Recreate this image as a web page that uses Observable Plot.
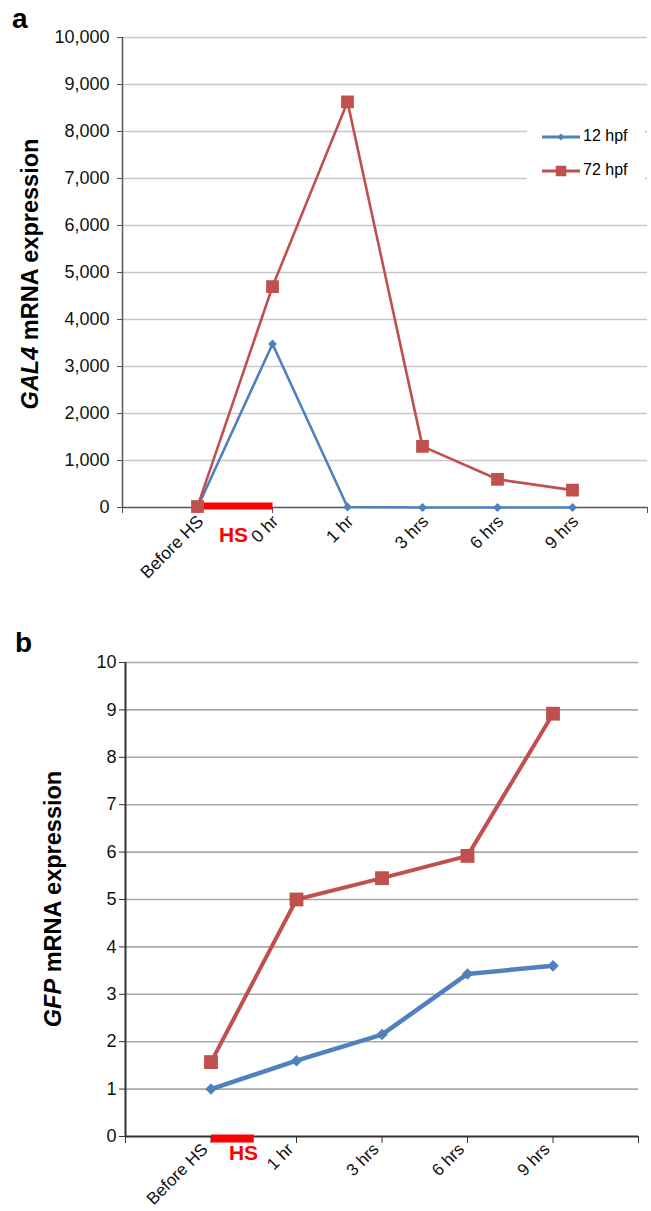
<!DOCTYPE html>
<html><head><meta charset="utf-8">
<script src="https://cdn.jsdelivr.net/npm/d3@7"></script>
<script src="https://cdn.jsdelivr.net/npm/@observablehq/plot@0.6"></script>
<style>
body{margin:0;background:#fff;}
#wrap{position:relative;width:651px;height:1211px;font-family:"Liberation Sans",Arial,sans-serif;overflow:hidden;}
#wrap svg{display:block;overflow:visible;}
</style></head><body><div id="wrap"></div>
<script>
// ---- data ----
const seriesNames = ["12 hpf", "72 hpf"];
const seriesColors = ["#4f81bd", "#c0504d"];

const catsA = ["Before HS", "0 hr", "1 hr", "3 hrs", "6 hrs", "9 hrs"];
const gal4_12hpf = [0, 3480, 10, 0, 0, 0];
const gal4_72hpf = [20, 4700, 8630, 1300, 600, 370];
const yTicksA = [0, 1000, 2000, 3000, 4000, 5000, 6000, 7000, 8000, 9000, 10000];
const hsSpanA = [1, 2];      // heat shock bar, in category positions
const hsLabelA = [1.48];

const catsB = ["Before HS", "1 hr", "3 hrs", "6 hrs", "9 hrs"];
const gfp_12hpf = [1.0, 1.6, 2.15, 3.43, 3.6];
const gfp_72hpf = [1.57, 5.0, 5.45, 5.92, 8.92];
const yTicksB = [0, 1, 2, 3, 4, 5, 6, 7, 8, 9, 10];
const hsSpanB = [1, 1.5];
const hsLabelB = [1.38];

function rows(cats, vals, name) {
  return cats.map((c, i) => ({pos: i + 1, cat: c, value: vals[i], series: name}));
}

const FONT = "Liberation Sans, Arial, sans-serif";
const wrap = document.getElementById("wrap");

// ---- chart a ----
const a12 = rows(catsA, gal4_12hpf, seriesNames[0]);
const a72 = rows(catsA, gal4_72hpf, seriesNames[1]);
const plotA = Plot.plot({
  width: 651, height: 600,
  marginLeft: 122, marginRight: 4, marginTop: 37, marginBottom: 93,
  x: {type: "linear", domain: [0, catsA.length + 1]},
  y: {domain: [0, 10000]},
  style: {fontFamily: FONT, fontSize: "16px", color: "#111", background: "transparent"},
  marks: [
    Plot.gridY(yTicksA.slice(1), {stroke: "#c8c8c8", strokeOpacity: 1, strokeWidth: 1.3}),
    Plot.axisY({ticks: yTicksA, tickFormat: d3.format(","), tickSize: 5, tickPadding: 8, label: null, stroke: "#555"}),
    Plot.axisX({ticks: [0, 2, catsA.length + 1], tickSize: 6, tickFormat: () => "", label: null, stroke: "#555"}),
    Plot.axisX({ticks: d3.range(1, catsA.length + 1), tickSize: 0, tickPadding: 11, tickRotate: -45,
      tickFormat: i => catsA[i - 1], label: null, dx: 3}),
    Plot.ruleY([0], {stroke: "#555", strokeWidth: 1.5}),
    Plot.ruleX([0], {stroke: "#555", strokeWidth: 1.5}),
    Plot.line(a12, {x: "pos", y: "value", stroke: seriesColors[0], strokeWidth: 2.6}),
    Plot.line(a72, {x: "pos", y: "value", stroke: seriesColors[1], strokeWidth: 2.6}),
    Plot.link([hsSpanA], {x1: d => d[0], x2: d => d[1], y1: () => 0, y2: () => 0, stroke: "#ff0000", strokeWidth: 7, dy: -1.5}),
    Plot.dot(a12, {x: "pos", y: "value", symbol: "diamond2", r: 4, fill: seriesColors[0]}),
    Plot.dot(a72, {x: "pos", y: "value", symbol: "square", r: 7.2, fill: seriesColors[1]}),
    Plot.text(hsLabelA, {x: d => d, y: () => 0, text: () => "HS", fill: "#ff0000", fontWeight: "bold", fontSize: 21, dy: 28, textAnchor: "middle"})
  ]
});
wrap.appendChild(plotA);

// ---- chart b ----
const b12 = rows(catsB, gfp_12hpf, seriesNames[0]);
const b72 = rows(catsB, gfp_72hpf, seriesNames[1]);
const plotB = Plot.plot({
  width: 651, height: 611,
  marginLeft: 125, marginRight: 13, marginTop: 62, marginBottom: 75,
  x: {type: "linear", domain: [0, catsB.length + 1]},
  y: {domain: [0, 10]},
  style: {fontFamily: FONT, fontSize: "16px", color: "#111", background: "transparent"},
  marks: [
    Plot.gridY(yTicksB.slice(1), {stroke: "#a8a8a8", strokeOpacity: 1, strokeWidth: 1.6}),
    Plot.axisY({ticks: yTicksB, tickSize: 6, tickPadding: 3, label: null, stroke: "#333"}),
    Plot.axisX({ticks: d3.range(0, catsB.length + 2), tickSize: 7, tickFormat: () => "", label: null, stroke: "#333"}),
    Plot.axisX({ticks: d3.range(1, catsB.length + 1), tickSize: 0, tickPadding: 10, tickRotate: -45,
      tickFormat: i => catsB[i - 1], label: null, dx: -6}),
    Plot.ruleY([0], {stroke: "#333", strokeWidth: 2}),
    Plot.ruleX([0], {stroke: "#333", strokeWidth: 2}),
    Plot.link([hsSpanB], {x1: d => d[0], x2: d => d[1], y1: () => 0, y2: () => 0, stroke: "#ff0000", strokeWidth: 8, dy: 2}),
    Plot.line(b12, {x: "pos", y: "value", stroke: seriesColors[0], strokeWidth: 4.5}),
    Plot.line(b72, {x: "pos", y: "value", stroke: seriesColors[1], strokeWidth: 4}),
    Plot.dot(b12, {x: "pos", y: "value", symbol: "diamond2", r: 5.2, fill: seriesColors[0]}),
    Plot.dot(b72, {x: "pos", y: "value", symbol: "square", r: 7.8, fill: seriesColors[1]}),
    Plot.text(hsLabelB, {x: d => d, y: () => 0, text: () => "HS", fill: "#ff0000", fontWeight: "bold", fontSize: 21, dy: 17, textAnchor: "middle"})
  ]
});
wrap.appendChild(plotB);

// tick label sizes
d3.select(plotA).selectAll('g[aria-label="y-axis tick label"] text').style("font-size", "18px");
d3.select(plotA).selectAll('g[aria-label="x-axis tick label"] text').style("font-size", "17.5px");
d3.select(plotB).selectAll('g[aria-label="y-axis tick label"] text').style("font-size", "18px");
d3.select(plotB).selectAll('g[aria-label="x-axis tick label"] text').style("font-size", "17px");

// ---- annotations: panel letters, axis titles, legend ----
function addTitle(svg, cx, cy, italicPart, rest) {
  const t = d3.select(svg).append("text")
    .attr("transform", `translate(${cx},${cy}) rotate(-90)`)
    .attr("text-anchor", "middle").attr("dominant-baseline", "middle")
    .attr("font-family", FONT).attr("font-weight", "bold").attr("font-size", 23.5).attr("fill", "#000");
  t.append("tspan").attr("font-style", "italic").text(italicPart);
  t.append("tspan").text(rest);
}
function addLetter(svg, x, y, s) {
  d3.select(svg).append("text").attr("x", x).attr("y", y).attr("text-anchor", "start")
    .attr("font-family", FONT).attr("font-weight", "bold").attr("font-size", 28).attr("fill", "#000").text(s);
}
addLetter(plotA, 12, 28, "a");
addLetter(plotB, 15, 52, "b");
addTitle(plotA, 32, 274, "GAL4", " mRNA expression");
addTitle(plotB, 55, 299, "GFP", " mRNA expression");

// legend (chart a)
const lg = d3.select(plotA).append("g");
lg.append("rect").attr("x", 527).attr("y", 118).attr("width", 118).attr("height", 72).attr("fill", "#fff");
const legendRows = [
  {name: seriesNames[0], color: seriesColors[0], sym: d3.symbolDiamond2, size: 30, y: 137},
  {name: seriesNames[1], color: seriesColors[1], sym: d3.symbolSquare, size: 110, y: 171}
];
legendRows.forEach(r => {
  lg.append("line").attr("x1", 542).attr("x2", 580).attr("y1", r.y).attr("y2", r.y)
    .attr("stroke", r.color).attr("stroke-width", 3);
  lg.append("path").attr("d", d3.symbol(r.sym, r.size)()).attr("transform", `translate(561,${r.y})`).attr("fill", r.color);
  lg.append("text").attr("x", 583).attr("y", r.y).attr("text-anchor", "start").attr("dominant-baseline", "middle")
    .attr("font-family", FONT).attr("font-size", 16).attr("fill", "#000").text(r.name);
});
</script></body></html>
